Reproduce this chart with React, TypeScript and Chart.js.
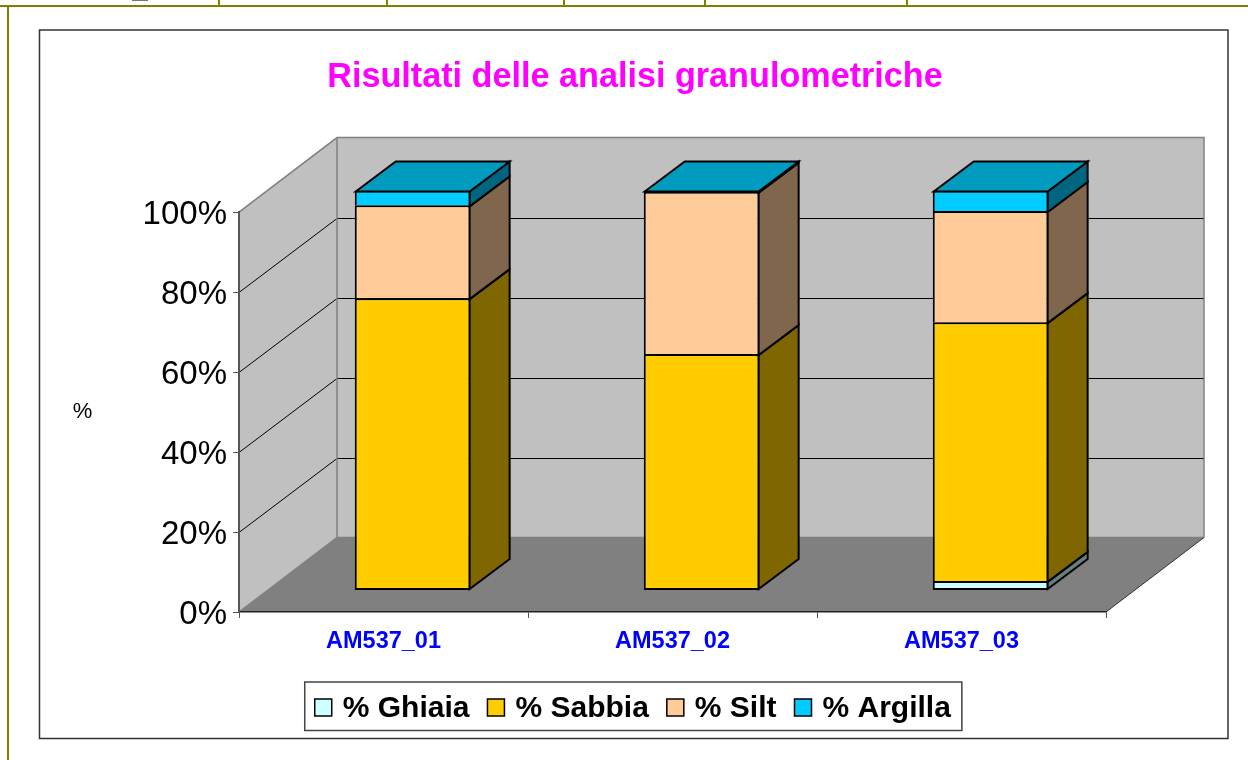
import React, { useEffect, useRef } from "react";
import { Chart, registerables } from "chart.js";

Chart.register(...registerables);

const categories = ["AM537_01", "AM537_02", "AM537_03"];
const ghiaia = [0, 0, 2.4];
const sabbia = [73.1, 59.1, 64.7];
const silt = [23.2, 40.6, 27.8];
const argilla = [3.7, 0.3, 5.1];
const seriesNames = ["% Ghiaia", "% Sabbia", "% Silt", "% Argilla"];
const seriesValues = [ghiaia, sabbia, silt, argilla];
const frontColors = ["#CCFFFF", "#FFCC00", "#FFCC99", "#00CCFF"];
const sideColors = ["#668080", "#806600", "#80664D", "#006680"];
const topColors = ["#99BFBF", "#BF9900", "#BF9973", "#009BBF"];
const tableColumns = [219, 387, 564, 705, 907];

const FONT = '"Liberation Sans", Arial, sans-serif';
const WALL_DX = 98;
const WALL_DY = -74.5;
const BAR_DX = 29.2;
const BAR_DY = -21.5;
const DEPTH_DX = 40;
const DEPTH_DY = -30;
const TICK_LABEL_SHIFT = 2.5;
const LEGEND_SHIFT = 2.2;

const lowestSeries = (column: number) => seriesValues.findIndex((s) => s[column] > 0);

const scene = {
  id: "scene3d",
  afterLayout(chart: any) {
    chart.legend.left -= LEGEND_SHIFT;
    chart.legend.right -= LEGEND_SHIFT;
  },
  beforeDraw(chart: any) {
    const { ctx, chartArea: a, scales } = chart;
    const y = scales.y;

    // nudge the value labels so the digits sit centred on their ticks
    y.getLabelItems().forEach((item: any) => {
      if (item.shifted) return;
      const t = item.options.translation;
      item.options.translation = [t[0], t[1] + TICK_LABEL_SHIFT];
      item.shifted = true;
    });

    ctx.save();
    ctx.fillStyle = "#ffffff";
    ctx.fillRect(0, 0, chart.width, chart.height);

    // surrounding table rules of the source page
    ctx.strokeStyle = "#808000";
    ctx.lineWidth = 2;
    ctx.beginPath();
    ctx.moveTo(0, 6);
    ctx.lineTo(1248, 6);
    ctx.moveTo(8, 6);
    ctx.lineTo(8, 760);
    tableColumns.forEach((x) => {
      ctx.moveTo(x, 0);
      ctx.lineTo(x, 6);
    });
    ctx.stroke();
    ctx.fillStyle = "#777777";
    ctx.fillRect(132, 0, 16, 1);

    // chart frame
    ctx.strokeStyle = "#333333";
    ctx.lineWidth = 1.5;
    ctx.strokeRect(39.5, 30, 1188.5, 708.5);

    const L = a.left;
    const R = a.right;
    const T = y.getPixelForValue(100);
    const B = y.getPixelForValue(0);
    const bx = L + WALL_DX;
    const bxr = R + WALL_DX;

    // walls
    ctx.fillStyle = "#C0C0C0";
    ctx.beginPath();
    ctx.moveTo(L, T);
    ctx.lineTo(bx, T + WALL_DY);
    ctx.lineTo(bxr, T + WALL_DY);
    ctx.lineTo(bxr, B + WALL_DY);
    ctx.lineTo(bx, B + WALL_DY);
    ctx.lineTo(L, B);
    ctx.closePath();
    ctx.fill();

    // floor
    ctx.fillStyle = "#808080";
    ctx.beginPath();
    ctx.moveTo(L, B);
    ctx.lineTo(bx, B + WALL_DY);
    ctx.lineTo(bxr, B + WALL_DY);
    ctx.lineTo(R, B);
    ctx.closePath();
    ctx.fill();

    // grid lines, from the value scale
    ctx.strokeStyle = "#000000";
    ctx.lineWidth = 1;
    y.ticks.forEach((t: any) => {
      if (t.value === 0 || t.value === 100) return;
      const p = Math.round(y.getPixelForValue(t.value)) + 0.5;
      const q = Math.round(p + WALL_DY) + 0.5;
      ctx.beginPath();
      ctx.moveTo(L, p);
      ctx.lineTo(bx, q);
      ctx.lineTo(bxr, q);
      ctx.stroke();
    });

    // wall edges
    ctx.strokeStyle = "#808080";
    ctx.lineWidth = 1.5;
    ctx.beginPath();
    ctx.moveTo(L, T);
    ctx.lineTo(bx, T + WALL_DY);
    ctx.lineTo(bxr, T + WALL_DY);
    ctx.lineTo(bxr, B + WALL_DY);
    ctx.moveTo(bx, T + WALL_DY);
    ctx.lineTo(bx, B + WALL_DY);
    ctx.moveTo(L, B);
    ctx.lineTo(bx, B + WALL_DY);
    ctx.lineTo(bxr, B + WALL_DY);
    ctx.stroke();
    ctx.strokeStyle = "#333333";
    ctx.lineWidth = 1;
    ctx.beginPath();
    ctx.moveTo(R, B);
    ctx.lineTo(bxr, B + WALL_DY);
    ctx.stroke();

    // upright unit label of the value axis
    ctx.fillStyle = "#000000";
    ctx.font = `22px ${FONT}`;
    ctx.textAlign = "center";
    ctx.textBaseline = "middle";
    ctx.fillText("%", 82.5, 412);
    ctx.restore();
  },
  beforeDatasetsDraw(chart: any) {
    chart.ctx.save();
    chart.ctx.translate(BAR_DX, BAR_DY);
  },
  afterDatasetsDraw(chart: any) {
    const { ctx } = chart;
    ctx.strokeStyle = "#000000";
    ctx.lineWidth = 2;
    ctx.lineJoin = "miter";
    chart.data.datasets.forEach((ds: any, i: number) => {
      const meta = chart.getDatasetMeta(i);
      meta.data.forEach((bar: any, j: number) => {
        if (!ds.data[j]) return;
        const { x, y, base, width } = bar.getProps(["x", "y", "base", "width"], true);
        const r = x + width / 2 - 1;
        const top = y + 1;
        const bottom = lowestSeries(j) === i ? base - 1 : base + 1;
        ctx.fillStyle = sideColors[i];
        ctx.beginPath();
        ctx.moveTo(r, top);
        ctx.lineTo(r + DEPTH_DX, top + DEPTH_DY);
        ctx.lineTo(r + DEPTH_DX, bottom + DEPTH_DY);
        ctx.lineTo(r, bottom);
        ctx.closePath();
        ctx.fill();
        ctx.stroke();
      });
    });
    // the cap of each column takes the colour of its highest non-empty series
    categories.forEach((_, j) => {
      let i = chart.data.datasets.length - 1;
      while (i > 0 && !chart.data.datasets[i].data[j]) i--;
      const bar = chart.getDatasetMeta(i).data[j];
      const { x, y, width } = bar.getProps(["x", "y", "width"], true);
      const l = x - width / 2 + 1;
      const r = x + width / 2 - 1;
      const top = y + 1;
      ctx.fillStyle = topColors[i];
      ctx.beginPath();
      ctx.moveTo(l, top);
      ctx.lineTo(l + DEPTH_DX, top + DEPTH_DY);
      ctx.lineTo(r + DEPTH_DX, top + DEPTH_DY);
      ctx.lineTo(r, top);
      ctx.closePath();
      ctx.fill();
      ctx.stroke();
    });
    ctx.restore();
  },
  afterDraw(chart: any) {
    const { ctx, legend } = chart;
    const hit = legend.legendHitBoxes;
    if (!hit || !hit.length) return;
    ctx.save();
    const first = hit[0];
    const last = hit[hit.length - 1];
    const mid = first.top + first.height / 2;
    ctx.strokeStyle = "#444444";
    ctx.lineWidth = 1.5;
    ctx.strokeRect(first.left - 10, mid - 27, last.left + last.width + 11 - (first.left - 10), 48.5);
    ctx.strokeStyle = "#000000";
    hit.forEach((h: any, i: number) => {
      ctx.fillStyle = frontColors[i];
      ctx.fillRect(h.left, mid - 10, 17, 17);
      ctx.strokeRect(h.left, mid - 10, 17, 17);
    });
    ctx.restore();
  },
};

export default function App() {
  const ref = useRef<HTMLCanvasElement | null>(null);
  useEffect(() => {
    if (!ref.current) return;
    const chart = new Chart(ref.current, {
      type: "bar",
      plugins: [scene],
      data: {
        labels: categories,
        datasets: seriesNames.map((label, i) => ({
          label,
          data: seriesValues[i],
          backgroundColor: frontColors[i],
          borderColor: "#000000",
          borderWidth: 2,
          borderSkipped: (c: any) => (lowestSeries(c.dataIndex) === i ? false : "bottom"),
          inflateAmount: 0,
          barPercentage: 0.401,
          categoryPercentage: 1,
          clip: false,
        })),
      } as any,
      options: {
        responsive: false,
        animation: false,
        layout: { padding: { left: 31, right: 9, top: 0, bottom: 26 } },
        scales: {
          x: {
            stacked: true,
            grid: { display: true, drawOnChartArea: false, drawTicks: true, tickLength: 6, color: "#555555", offset: true },
            border: { display: true, color: "#222222", width: 1.5 },
            ticks: { color: "#0000FF", font: { family: FONT, size: 23.5, weight: "bold" }, padding: 9.7, maxRotation: 0 },
            afterFit: (s: any) => { s.height = 64; },
          },
          y: {
            stacked: true,
            min: 0,
            max: 100,
            ticks: { stepSize: 20, color: "#000000", font: { family: FONT, size: 33 }, padding: 6, callback: (v: any) => `${v}%` },
            grid: { display: true, drawOnChartArea: false, drawTicks: true, tickLength: 6, color: "#555555" },
            border: { display: true, color: "#555555", width: 2 },
            afterFit: (s: any) => { s.width = 208; },
          },
          rightGap: {
            type: "linear",
            position: "right",
            display: true,
            ticks: { display: false },
            grid: { display: false },
            border: { display: false },
            afterFit: (s: any) => { s.width = 133; },
          },
        },
        plugins: {
          title: {
            display: true,
            text: "Risultati delle analisi granulometriche",
            color: "#FF00FF",
            font: { family: FONT, size: 34.2, weight: "bold", lineHeight: 1.2 },
            padding: { top: 57.5, bottom: 113.5 },
          },
          legend: {
            display: true,
            position: "bottom",
            labels: {
              boxWidth: 13,
              boxHeight: 0,
              padding: 18,
              color: "#000000",
              font: { family: FONT, size: 30, weight: "bold", lineHeight: 1.2 },
              generateLabels: (c: any) =>
                c.data.datasets.map((d: any, i: number) => ({
                  text: d.label,
                  fillStyle: "rgba(0,0,0,0)",
                  strokeStyle: "rgba(0,0,0,0)",
                  lineWidth: 0,
                  datasetIndex: i,
                  hidden: false,
                })),
            },
          },
          tooltip: { enabled: false },
        },
      } as any,
    });
    return () => chart.destroy();
  }, []);
  return (
    <canvas
      ref={ref}
      width={1248}
      height={760}
      style={{ position: "absolute", left: 0, top: 0, display: "block" }}
    />
  );
}
